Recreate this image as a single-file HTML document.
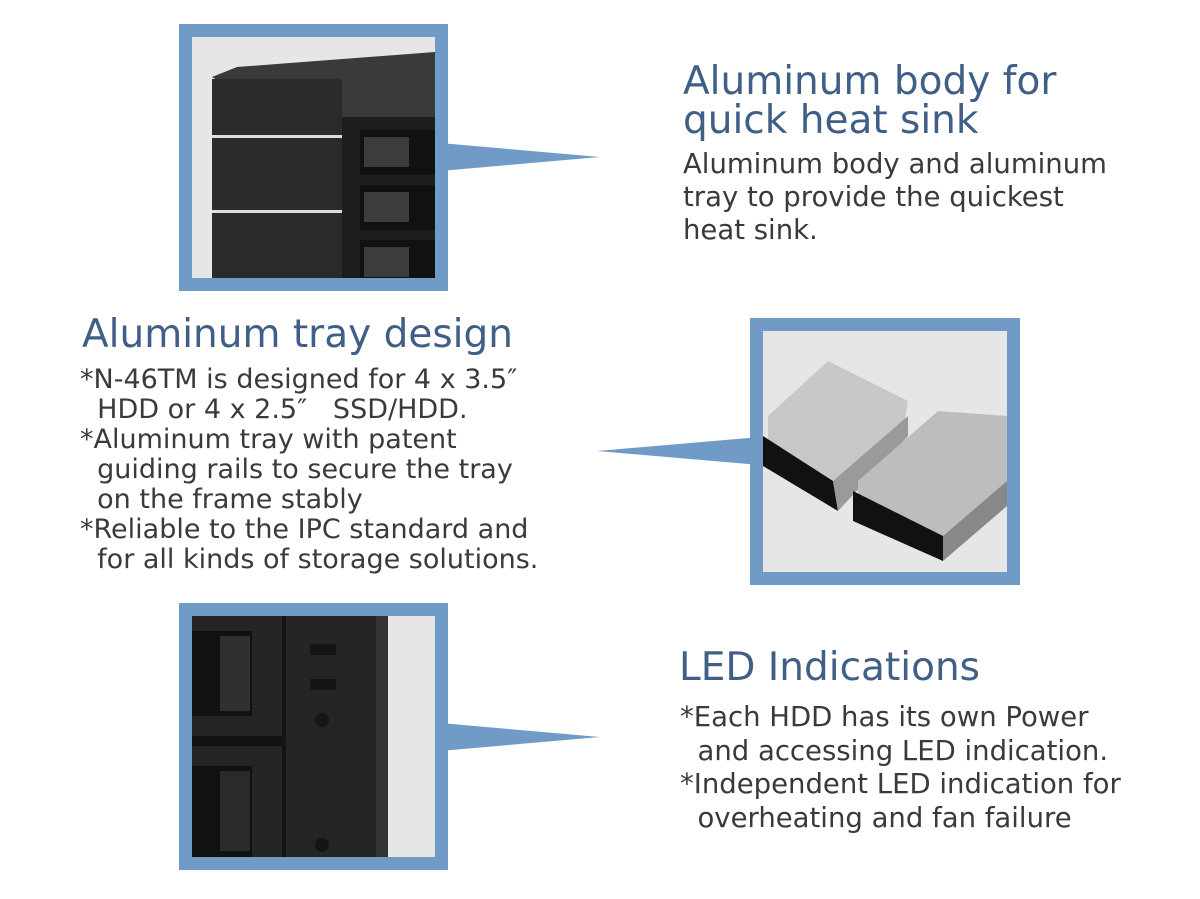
<!DOCTYPE html>
<html><head><meta charset="utf-8"><style>
body{margin:0;width:1200px;height:899px;background:#fff;position:relative;overflow:hidden;font-family:"DejaVu Sans","Liberation Sans",sans-serif;}
.frame{position:absolute;background:#6f9bc6;}
.inner{position:absolute;left:13px;top:13px;right:13px;bottom:13px;background:#e6e6e6;overflow:hidden;}
.t{position:absolute;white-space:pre;color:#3a3a3a;}
.h{position:absolute;white-space:pre;color:#3f5f86;font-size:39px;line-height:39px;}
svg{position:absolute;left:0;top:0}
</style></head><body>
<svg width="1200" height="899">
<polygon points="440,143 600,157 440,171" fill="#6f9bc6"/>
<polygon points="760,437 597,451 760,465" fill="#6f9bc6"/>
<polygon points="440,723 600,737 440,751" fill="#6f9bc6"/>
</svg>
<div class="frame" style="left:179px;top:24px;width:269px;height:267px">
 <div class="inner">
  <svg width="243" height="241">
   <polygon points="20,40 45,30 243,15 243,80 110,95" fill="#3a3a3a"/>
   <rect x="20" y="42" width="130" height="199" fill="#2a2a2a"/>
   <rect x="20" y="98" width="130" height="3" fill="#ddd"/>
   <rect x="20" y="173" width="130" height="3" fill="#ddd"/>
   <rect x="150" y="80" width="93" height="161" fill="#1e1e1e"/>
   <rect x="168" y="93" width="75" height="45" fill="#111"/>
   <rect x="172" y="100" width="45" height="30" fill="#3c3c3c"/>
   <rect x="168" y="148" width="75" height="45" fill="#111"/>
   <rect x="172" y="155" width="45" height="30" fill="#3c3c3c"/>
   <rect x="168" y="203" width="75" height="38" fill="#111"/>
   <rect x="172" y="210" width="45" height="30" fill="#3c3c3c"/>
  </svg>
 </div>
</div>
<div class="frame" style="left:750px;top:318px;width:270px;height:267px">
 <div class="inner">
  <svg width="244" height="241">
   <polygon points="5,85 65,30 145,70 140,100 70,175 5,125" fill="#c8c8c8"/>
   <polygon points="0,105 70,150 75,180 0,135" fill="#111"/>
   <polygon points="70,150 145,85 145,105 75,180" fill="#9a9a9a"/>
   <polygon points="95,150 175,80 244,85 244,150 180,205 95,175" fill="#bdbdbd"/>
   <polygon points="90,160 180,205 180,230 90,190" fill="#111"/>
   <polygon points="180,205 244,150 244,175 180,230" fill="#888"/>
  </svg>
 </div>
</div>
<div class="frame" style="left:179px;top:603px;width:269px;height:267px">
 <div class="inner">
  <svg width="243" height="241">
   <rect x="0" y="0" width="196" height="241" fill="#252525"/>
   <rect x="0" y="15" width="60" height="85" fill="#111"/>
   <rect x="28" y="20" width="30" height="75" fill="#303030"/>
   <rect x="0" y="150" width="60" height="91" fill="#111"/>
   <rect x="28" y="155" width="30" height="80" fill="#2a2a2a"/>
   <rect x="0" y="120" width="90" height="10" fill="#111"/>
   <rect x="90" y="0" width="4" height="241" fill="#151515"/>
   <rect x="118" y="28" width="26" height="11" fill="#151515"/>
   <rect x="118" y="63" width="26" height="11" fill="#151515"/>
   <circle cx="130" cy="104" r="7" fill="#151515"/>
   <circle cx="130" cy="229" r="7" fill="#151515"/>
   <rect x="184" y="0" width="12" height="241" fill="#333"/>
  </svg>
 </div>
</div>
<div class="h" style="left:683px;top:62px">Aluminum body for
quick heat sink</div>
<div class="t" style="left:683px;top:148px;font-size:27.5px;line-height:33px">Aluminum body and aluminum
tray to provide the quickest
heat sink.</div>
<div class="h" style="left:82px;top:315px">Aluminum tray design</div>
<div class="t" style="left:80px;top:365px;font-size:27px;line-height:30px">*N-46TM is designed for 4 x 3.5″
  HDD or 4 x 2.5″   SSD/HDD.
*Aluminum tray with patent
  guiding rails to secure the tray
  on the frame stably
*Reliable to the IPC standard and
  for all kinds of storage solutions.</div>
<div class="h" style="left:679px;top:648px">LED Indications</div>
<div class="t" style="left:680px;top:701px;font-size:27.5px;line-height:33.5px">*Each HDD has its own Power
  and accessing LED indication.
*Independent LED indication for
  overheating and fan failure</div>
</body></html>
